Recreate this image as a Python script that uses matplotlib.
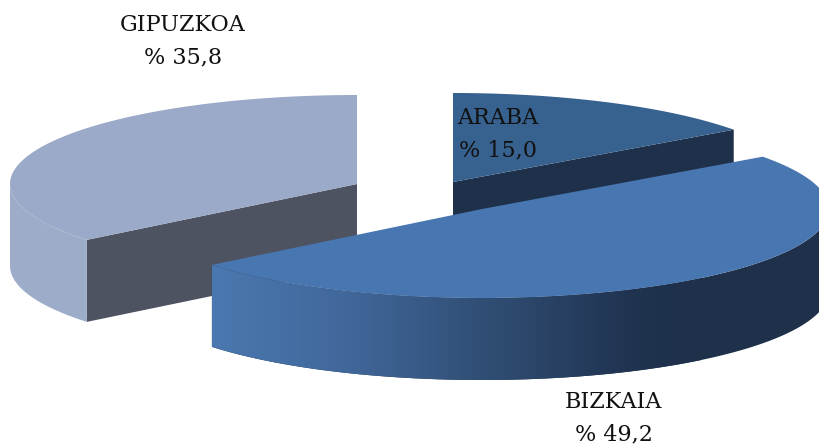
import numpy as np
import matplotlib
matplotlib.use('AGG')
import matplotlib.pyplot as plt
from matplotlib.colors import LinearSegmentedColormap
from matplotlib.patches import Polygon

provinces = ['ARABA', 'BIZKAIA', 'GIPUZKOA']
shares = [15.0, 49.2, 35.8]

# wedge centres in pixels, the slices are pulled apart
centres = {'ARABA': (453, 182), 'BIZKAIA': (482, 209), 'GIPUZKOA': (357, 184)}
top_colors = {'ARABA': '#37618f', 'BIZKAIA': '#4876b0', 'GIPUZKOA': '#9baac8'}
cut_colors = {'ARABA': '#1e304a', 'BIZKAIA': '#1e304a', 'GIPUZKOA': '#4e5362'}
label_pos = {'ARABA': (498, 134), 'BIZKAIA': (614, 418), 'GIPUZKOA': (183, 41)}

RX = 347
RY = 89
DEPTH = 82


def point(name, t):
    cx, cy = centres[name]
    return cx + RX * np.sin(t), cy - RY * np.cos(t)


def arc(name, t0, t1):
    t = np.linspace(t0, t1, 200)
    x, y = point(name, t)
    return np.column_stack([x, y])


plt.figure(figsize=(8.19, 4.45), dpi=100)
ax = plt.axes([0, 0, 1, 1])
ax.set_xlim(0, 819)
ax.set_ylim(445, 0)
ax.axis('off')

# start angle of every slice, clockwise from the back of the pie
total = sum(shares)
starts = {}
ends = {}
angle = 0
for name, value in zip(provinces, shares):
    starts[name] = angle
    angle += 2 * np.pi * value / total
    ends[name] = angle

side_cmap = LinearSegmentedColormap.from_list('side', [
    (0.0, '#4a78b0'), (0.27, '#41689b'), (0.58, '#2f4c72'),
    (0.88, '#1f324e'), (1.0, '#1e304a')])

for name in ['GIPUZKOA', 'ARABA', 'BIZKAIA']:
    t0, t1 = starts[name], ends[name]
    cx, cy = centres[name]
    edge = arc(name, t0, t1)
    top = np.vstack([[cx, cy], edge])

    # cut face of the slice that looks to the front
    if name != 'BIZKAIA':
        px, py = point(name, t0 if name == 'GIPUZKOA' else t1)
        cut = [(cx, cy), (px, py), (px, py + DEPTH), (cx, cy + DEPTH)]
        ax.add_patch(Polygon(cut, closed=True, fc=cut_colors[name], ec='none', zorder=1))

    # outer wall, only the part that faces the viewer
    a, b = max(t0, np.pi / 2), min(t1, 3 * np.pi / 2)
    if a < b:
        wall = arc(name, a, b)
        wall = np.vstack([wall, (wall + [0, DEPTH])[::-1]])
        if name == 'BIZKAIA':
            patch = Polygon(wall, closed=True, fc=cut_colors[name], ec='none', zorder=3)
            ax.add_patch(patch)
            im = ax.imshow(np.linspace(0, 1, 256)[None, :], cmap=side_cmap,
                           extent=(wall[:, 0].min(), 700, 445, 0), aspect='auto', zorder=3.5)
            im.set_clip_path(patch)
        else:
            ax.add_patch(Polygon(wall, closed=True, fc='#9dacc9', ec='none', zorder=1))

    z = 4 if name == 'BIZKAIA' else 2
    ax.add_patch(Polygon(top, closed=True, fc=top_colors[name], ec='none', zorder=z))

ax.set_xlim(0, 819)
ax.set_ylim(445, 0)

for name, value in zip(provinces, shares):
    x, y = label_pos[name]
    txt = name + '\n% ' + f'{value:.1f}'.replace('.', ',')
    ax.text(x, y, txt, ha='center', va='center', fontsize=16,
            family='DejaVu Serif', color='#111111', linespacing=1.6, zorder=5)

plt.savefig('out.png', dpi=100)
